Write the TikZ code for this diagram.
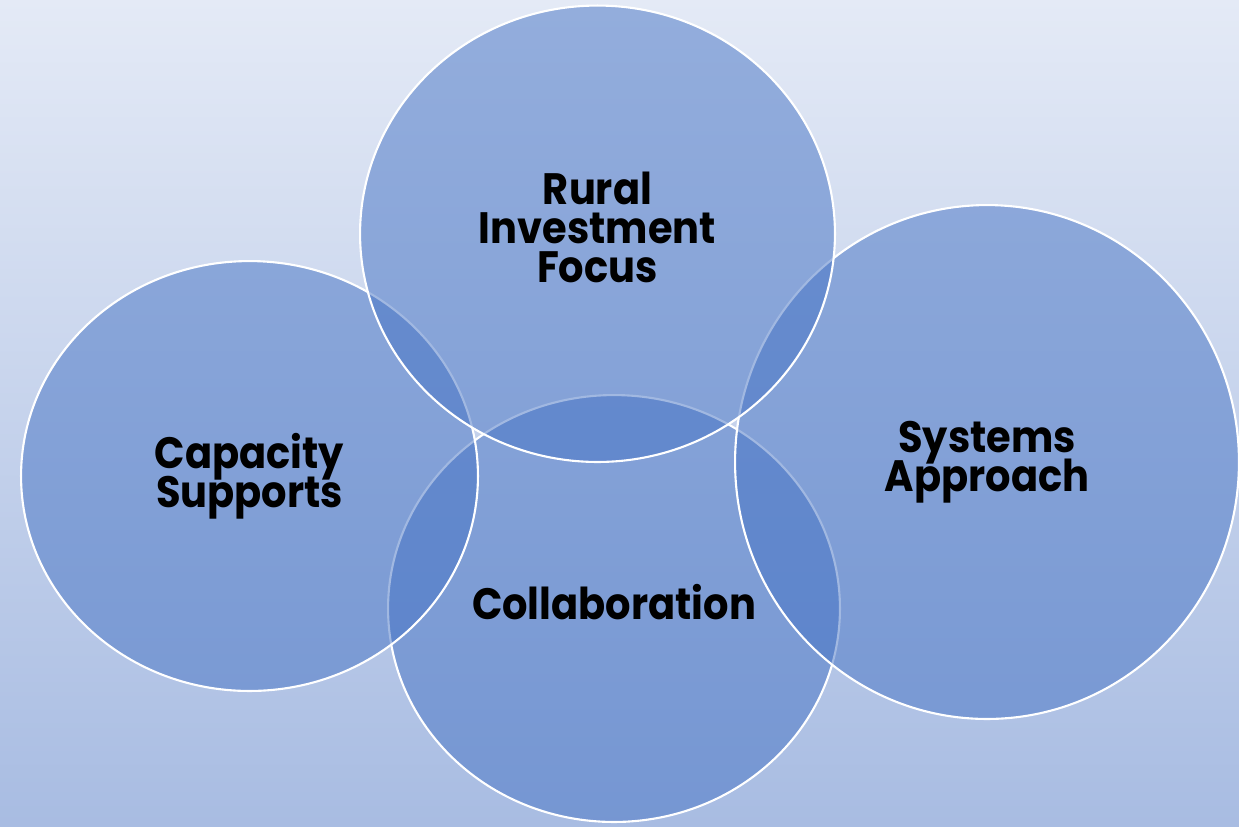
\documentclass[tikz,border=0pt]{standalone}
\usepackage{fontspec}
\newfontfamily\vennfont{Poppins}[FakeStretch=0.91]
\newcommand\vennlabelfont{\vennfont\bfseries\fontsize{25}{22.3}\selectfont\lineskiplimit=-50pt\relax}
\usetikzlibrary{shapes.geometric}
\definecolor{vennblue}{HTML}{4472C4}
\definecolor{bgtop}{HTML}{E4EAF6}
\definecolor{bgbottom}{HTML}{A8BCE2}
\tikzset{
  every node/.style = {
    inner sep = 0pt,
    outer sep = 0pt
  }
}

\begin{document}
\begin{tikzpicture}[
    x = 0.02cm,
    y = -0.02cm,
    venn/.style={
      ellipse,
      draw = white,
      line width = 1.2pt,
      fill = vennblue,
      fill opacity = 0.5,
    },
    venn label/.style={
      align = center,
      font = \vennlabelfont,
    },
  ]
  \useasboundingbox (0,0) rectangle (1239,826);
  \shade [top color=bgtop, bottom color=bgbottom] (0,0) rectangle (1239,826);

  % order matters: later ellipses veil the borders of earlier ones
  \node [venn, minimum width=9.04cm, minimum height=8.54cm] (collab) at (614,608.5) {};
  \node [venn, minimum width=9.14cm, minimum height=8.6cm] (capacity) at (249.5,476) {};
  \node [venn, minimum width=10.08cm, minimum height=10.28cm] (systems) at (987,462) {};
  \node [venn, minimum width=9.5cm, minimum height=9.13cm] (rural) at (597.5,233.75) {};

  % labels
  \node [venn label] (collab-text) at ([yshift=3.5pt]collab.center) {Collaboration};
  \node [venn label] (capacity-text) at ([yshift=-0.3pt]capacity.center) {Capacity\\Supports};
  \node [venn label] (systems-text) at ([yshift=-0.3pt]systems.center) {Systems\\Approach};
  \node [venn label] (rural-text) at ([yshift=3.5pt]rural.center) {Rural\\Investment\\Focus};
\end{tikzpicture}
\end{document}
